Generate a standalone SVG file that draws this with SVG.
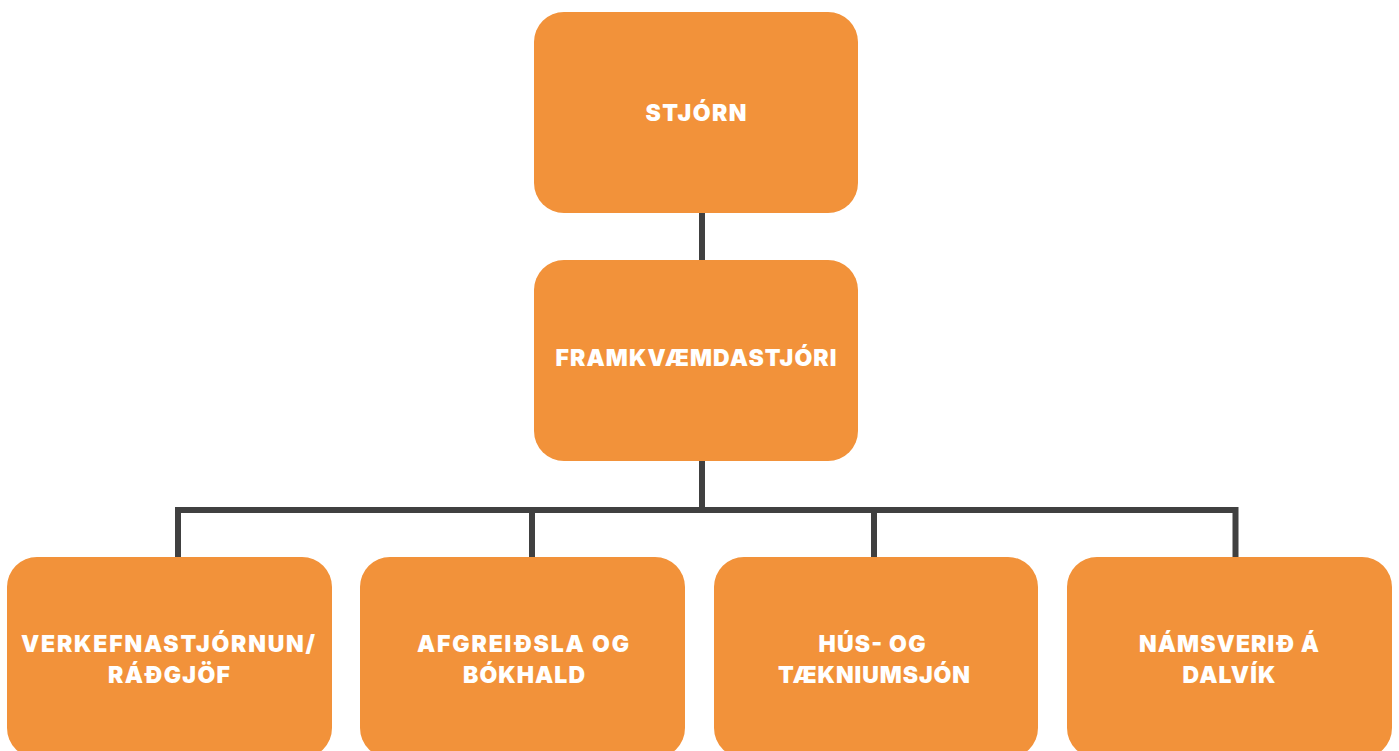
<svg xmlns="http://www.w3.org/2000/svg" width="1399" height="751" viewBox="0 0 1399 751">
<style>
.box{fill:#F2923A;}
.lbl{fill:#FFFFFF;font-family:Inter,"Open Sans","Liberation Sans",sans-serif;font-weight:900;font-size:23px;text-anchor:middle;}
.con{stroke:#404040;stroke-width:6;fill:none;}
</style>
<rect width="1399" height="751" fill="#FFFFFF"/>
<g id="connectors">
<line class="con" x1="702" y1="212" x2="702" y2="261"/>
<line class="con" x1="702" y1="460" x2="702" y2="510"/>
<polyline class="con" points="178,558 178,510 1235.5,510 1235.5,558"/>
<line class="con" x1="532" y1="510" x2="532" y2="558"/>
<line class="con" x1="874" y1="510" x2="874" y2="558"/>
</g>
<g id="n-stjorn">
<rect class="box" x="534" y="12" width="324" height="201" rx="30"/>
<text class="lbl" x="696" y="121" textLength="101" lengthAdjust="spacing">STJÓRN</text>
</g>
<g id="n-framkvaemdastjori">
<rect class="box" x="534" y="260" width="324" height="201" rx="30"/>
<text class="lbl" x="696" y="366" textLength="281" lengthAdjust="spacing">FRAMKVÆMDASTJÓRI</text>
</g>
<g id="n-verkefnastjornun">
<rect class="box" x="7" y="557" width="325" height="201" rx="30"/>
<text class="lbl" x="168" y="652" textLength="294" lengthAdjust="spacing">VERKEFNASTJÓRNUN/</text>
<text class="lbl" x="169" y="683" textLength="122" lengthAdjust="spacing">RÁÐGJÖF</text>
</g>
<g id="n-afgreidsla">
<rect class="box" x="360" y="557" width="325" height="201" rx="30"/>
<text class="lbl" x="523" y="652" textLength="212" lengthAdjust="spacing">AFGREIÐSLA OG</text>
<text class="lbl" x="524" y="683" textLength="122" lengthAdjust="spacing">BÓKHALD</text>
</g>
<g id="n-hus">
<rect class="box" x="714" y="557" width="324" height="201" rx="30"/>
<text class="lbl" x="872" y="652" textLength="107" lengthAdjust="spacing">HÚS- OG</text>
<text class="lbl" x="874" y="683" textLength="192" lengthAdjust="spacing">TÆKNIUMSJÓN</text>
</g>
<g id="n-namsverid">
<rect class="box" x="1067" y="557" width="325" height="201" rx="30"/>
<text class="lbl" x="1229" y="652" textLength="180" lengthAdjust="spacing">NÁMSVERIÐ Á</text>
<text class="lbl" x="1229" y="683" textLength="93" lengthAdjust="spacing">DALVÍK</text>
</g>
</svg>
